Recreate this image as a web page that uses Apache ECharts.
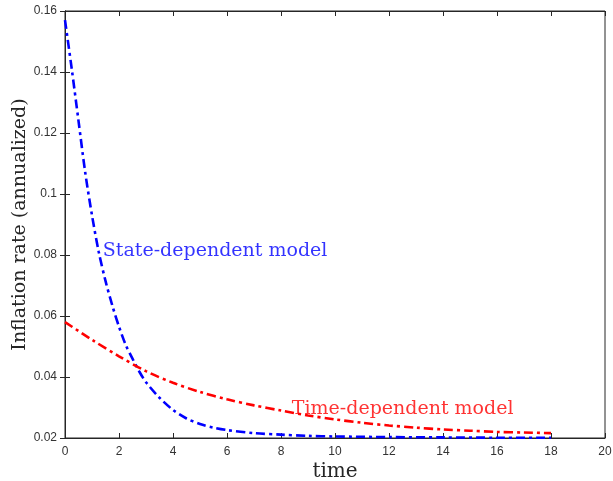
<!DOCTYPE html>
<html><head><meta charset="utf-8">
<script src="https://cdn.jsdelivr.net/npm/echarts@6/dist/echarts.min.js"></script>
<style>html,body{margin:0;padding:0;background:#fff}#c{width:613px;height:481px}</style>
</head><body><div id="c"></div>
<script>
const xTicks = [0, 2, 4, 6, 8, 10, 12, 14, 16, 18, 20];
const yTicks = [0.02, 0.04, 0.06, 0.08, 0.1, 0.12, 0.14, 0.16];
const stateT = [0, 0.25, 0.5, 0.75, 1.0, 1.25, 1.5, 1.75, 2.0, 2.25, 2.5, 2.75, 3.0, 3.5, 4.0, 4.5, 5.0, 5.5, 6.0, 7.0, 8.0, 9.0, 10, 12, 14, 16, 18];
const stateV = [0.157, 0.141, 0.124, 0.107, 0.093, 0.081, 0.0715, 0.0635, 0.0565, 0.0505, 0.046, 0.0418, 0.0383, 0.0332, 0.0292, 0.0264, 0.0246, 0.0234, 0.0226, 0.0216, 0.0211, 0.0207, 0.0205, 0.0203, 0.0202, 0.0201, 0.0201];
const timeT = [0, 1, 2, 3, 4, 5, 6, 7, 8, 9, 10, 11, 12, 13, 14, 15, 16, 17, 18];
const timeV = [0.058, 0.0522, 0.0468, 0.0419, 0.0381, 0.0351, 0.0327, 0.0307, 0.0290, 0.0274, 0.0261, 0.0250, 0.0241, 0.0234, 0.0228, 0.0224, 0.0220, 0.0218, 0.0216];
const labelState = {text: 'State-dependent model', x: 1.4, y: 0.0812};
const labelTime = {text: 'Time-dependent model', x: 8.4, y: 0.0294};

const serif = '"DejaVu Serif", "Liberation Serif", serif';
const sans = '"Liberation Sans", Arial, sans-serif';
const axisCol = '#262626';
const chart = echarts.init(document.getElementById('c'));
const dashDot = [9, 4, 3, 4];
chart.setOption({
  animation: false,
  grid: {left: 65, right: 8, top: 11, bottom: 43, show: true, borderColor: axisCol, borderWidth: 1,
    containLabel: false, outerBoundsMode: 'none'},
  xAxis: [{
    type: 'value', min: xTicks[0], max: xTicks[xTicks.length - 1], interval: 2,
    name: 'time', nameLocation: 'middle', nameGap: 24, nameMoveOverlap: false,
    nameTextStyle: {fontFamily: serif, fontSize: 20, color: '#262626'},
    axisLine: {show: true, lineStyle: {color: axisCol}},
    axisTick: {show: true, inside: true, length: 5, lineStyle: {color: axisCol}},
    axisLabel: {fontFamily: sans, fontSize: 12, color: '#333', margin: 8},
    splitLine: {show: false}
  }, {
    type: 'value', position: 'top', min: 0, max: 20, interval: 2,
    axisLine: {show: true, lineStyle: {color: axisCol}},
    axisTick: {show: true, inside: true, length: 5, lineStyle: {color: axisCol}},
    axisLabel: {show: false}, splitLine: {show: false}
  }],
  yAxis: [{
    type: 'value', min: yTicks[0], max: yTicks[yTicks.length - 1], interval: 0.02,
    name: 'Inflation rate (annualized)', nameLocation: 'middle', nameGap: 35, nameMoveOverlap: false,
    nameTextStyle: {fontFamily: serif, fontSize: 19, color: '#262626'},
    axisLine: {show: true, lineStyle: {color: axisCol}},
    axisTick: {show: true, inside: true, length: 5, lineStyle: {color: axisCol}},
    axisLabel: {fontFamily: sans, fontSize: 12, color: '#333', margin: 8,
      formatter: v => String(+v.toFixed(2))},
    splitLine: {show: false}
  }, {
    type: 'value', position: 'right', min: 0.02, max: 0.16, interval: 0.02,
    axisLine: {show: true, lineStyle: {color: axisCol}},
    axisTick: {show: true, inside: true, length: 5, lineStyle: {color: axisCol}},
    axisLabel: {show: false}, splitLine: {show: false}
  }],
  series: [{
    type: 'line', smooth: 0.3, symbol: 'none',
    data: stateT.map((t, i) => [t, stateV[i]]),
    lineStyle: {color: '#0000ff', width: 2.6, type: dashDot}
  }, {
    type: 'line', smooth: 0.3, symbol: 'none',
    data: timeT.map((t, i) => [t, timeV[i]]),
    lineStyle: {color: '#ff0000', width: 2.6, type: dashDot}
  }, {
    type: 'scatter', symbolSize: 0, silent: true,
    data: [[labelState.x, labelState.y]],
    label: {show: true, position: 'right', distance: 0, formatter: labelState.text,
      fontFamily: serif, fontSize: 19, color: '#0000ff'}
  }, {
    type: 'scatter', symbolSize: 0, silent: true,
    data: [[labelTime.x, labelTime.y]],
    label: {show: true, position: 'right', distance: 0, formatter: labelTime.text,
      fontFamily: serif, fontSize: 19, color: '#ff0000'}
  }]
});
</script></body></html>
